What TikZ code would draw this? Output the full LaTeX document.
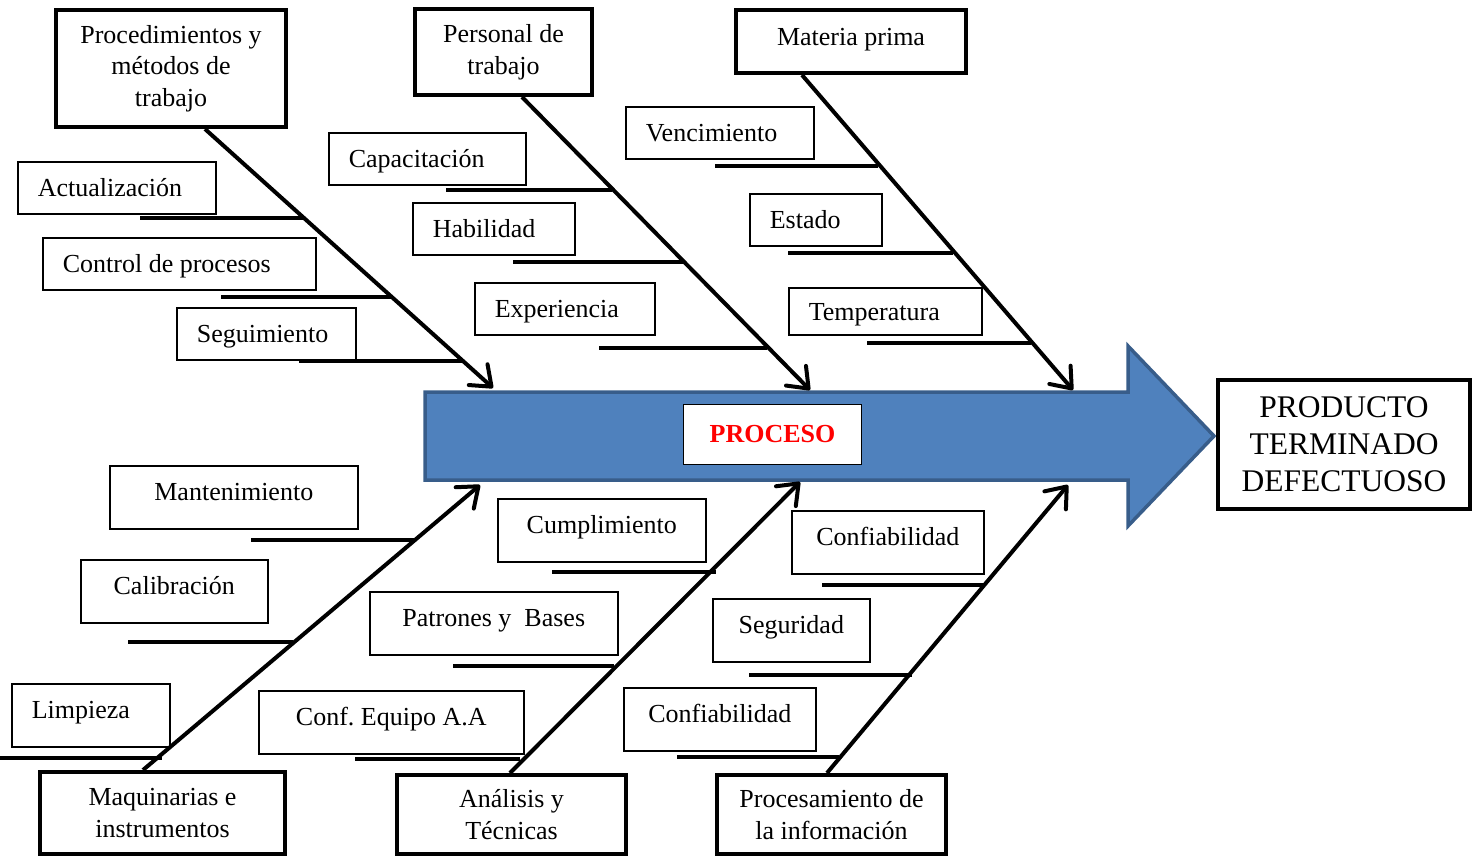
\documentclass[tikz,border=0pt]{standalone}
\usepackage{fontspec}
\setmainfont{Liberation Serif}
\usetikzlibrary{arrows.meta}
\frenchspacing

\definecolor{azul}{RGB}{79,129,189}
\definecolor{azulborde}{RGB}{56,93,138}

\tikzset{
  causa/.style={draw, line width=4pt, fill=white, align=flush center, inner sep=2pt},
  sub/.style={draw, line width=1.6pt, fill=white, inner xsep=20pt, inner ysep=2pt, anchor=north west, text height=18pt},
  arriba/.style={sub, align=flush left, minimum height=52pt, text depth=0pt},
  abajo/.style={sub, align=flush center, minimum height=63pt, text depth=12pt},
  espina/.style={line width=4pt, -{Straight Barb[length=18pt,width=28pt,round]}},
  costilla/.style={line width=3.5pt}
}

\begin{document}
\begin{tikzpicture}[x=1pt, y=-1pt, font=\fontsize{26}{31.5}\selectfont]
\useasboundingbox (0,0) rectangle (1479,856);

% flecha principal
\draw[fill=azul, draw=azulborde, line width=3.5pt] (425,392) -- (1128,392) -- (1128,346) -- (1214,436) -- (1128,526) -- (1128,480) -- (425,480) -- cycle;
\node[draw, line width=1.6pt, fill=white, minimum width=178pt, minimum height=60pt, text=red, font=\fontsize{26}{31.5}\selectfont\bfseries] (proceso) at (772.5,434.5) {PROCESO};
\node[causa, minimum width=252pt, minimum height=129pt, font=\fontsize{31.5}{37}\selectfont] (prod) at (1344,444.5) {PRODUCTO\\TERMINADO\\DEFECTUOSO};

% costillas
\foreach \xa/\xb/\y in {140/304/218, 221/392/297, 299/464/361,
                        446/612/190, 513/683/262, 599/767/348,
                        715/878/166, 788/953/253, 867/1031/343,
                        251/414/540, 128/293/642, 0/162/758,
                        552/716/572, 453/614/666, 355/520/759,
                        822/984/585, 749/912/675, 677/839/757}
    \draw[costilla] (\xa,\y) -- (\xb,\y);

% causas principales
\node[causa, minimum width=230pt, minimum height=117pt] (proc) at (171,68.5) {Procedimientos y\\métodos de\\trabajo};
\node[causa, minimum width=177pt, minimum height=86pt] (pers) at (503.5,52) {Personal de\\trabajo};
\node[causa, minimum width=230pt, minimum height=63pt, text height=18pt, text depth=10pt] (mat) at (851,41.5) {Materia prima};
\node[causa, minimum width=245pt, minimum height=82pt] (maq) at (162.5,813) {Maquinarias e\\instrumentos};
\node[causa, minimum width=229pt, minimum height=79pt] (ana) at (511.5,814.5) {Análisis y\\Técnicas};
\node[causa, minimum width=229pt, minimum height=79pt] (info) at (831.5,814.5) {Procesamiento de\\la información};

% subcausas de arriba
\node[arriba, text width=158pt] (act) at (17,161) {Actualización};
\node[arriba, text width=233pt] (ctrl) at (42,237) {Control de procesos};
\node[arriba, text width=139pt] (segui) at (176,307) {Seguimiento};
\node[arriba, text width=157pt] (capa) at (328,132) {Capacitación};
\node[arriba, text width=122pt] (habi) at (412,202) {Habilidad};
\node[arriba, text width=140pt] (expe) at (474,282) {Experiencia};
\node[arriba, text width=148pt] (venc) at (625,106) {Vencimiento};
\node[arriba, text width=92pt] (esta) at (749,193) {Estado};
\node[arriba, text width=153pt, minimum height=47pt, text depth=0pt] (temp) at (788,287) {Temperatura};

% subcausas de abajo
\node[abajo, text width=208pt] (mant) at (109,465) {Mantenimiento};
\node[abajo, text width=147pt] (cali) at (80,559) {Calibración};
\node[abajo, text width=118pt, align=flush left] (limp) at (11,683) {Limpieza};
\node[abajo, text width=168pt] (cump) at (497,498) {Cumplimiento};
\node[abajo, text width=208pt] (patr) at (369,591) {Patrones y~ Bases};
\node[abajo, text width=225pt] (cequ) at (258,690) {Conf. Equipo A.A};
\node[abajo, text width=152pt] (conf1) at (791,510) {Confiabilidad};
\node[abajo, text width=117pt] (segu) at (712,598) {Seguridad};
\node[abajo, text width=152pt] (conf2) at (623,687) {Confiabilidad};

% espinas
\coordinate (t1) at (493,388);
\coordinate (t2) at (810,390);
\coordinate (t3) at (1073,390);
\coordinate (b1) at (480,485);
\coordinate (b2) at (800,482);
\coordinate (b3) at (1068,485);
\draw[espina] ([xshift=34pt]proc.south) -- (t1);
\draw[espina] ([xshift=18.5pt]pers.south) -- (t2);
\draw[espina] ([xshift=-49pt]mat.south) -- (t3);
\draw[espina] ([xshift=-19.5pt]maq.north) -- (b1);
\draw[espina] ([xshift=-1.5pt]ana.north) -- (b2);
\draw[espina] ([xshift=-4.5pt]info.north) -- (b3);
\end{tikzpicture}
\end{document}
